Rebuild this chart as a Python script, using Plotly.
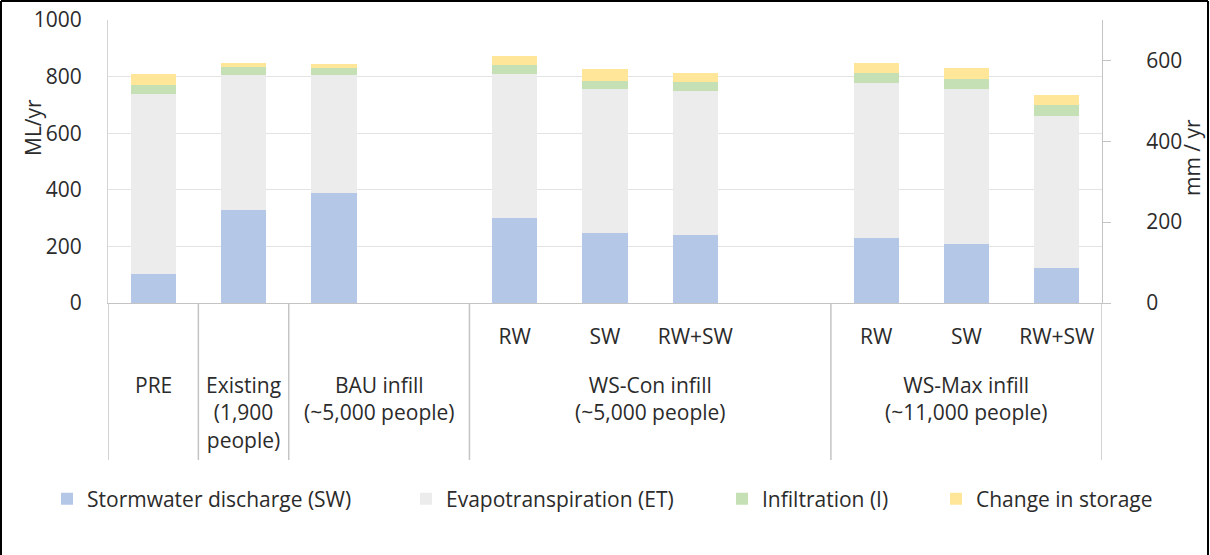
import plotly.graph_objects as go

# ---------------- data ----------------
group_labels = ["PRE",
                "Existing<br>(1,900<br>people)",
                "BAU infill<br>(~5,000 people)",
                "WS-Con infill<br>(~5,000 people)",
                "WS-Max infill<br>(~11,000 people)"]
group_slots = [1, 1, 2, 4, 3]          # category slots spanned by each group
bar_group = [0, 1, 2, 3, 3, 3, 4, 4, 4]
bar_labels = ["", "", "", "RW", "SW", "RW+SW", "RW", "SW", "RW+SW"]

series_names = ["Stormwater discharge (SW)", "Evapotranspiration (ET)",
                "Infiltration (I)", "Change in storage"]
stormwater = [101, 329, 389, 301, 248, 241, 228, 210, 125]
evapotranspiration = [636, 478, 418, 508, 507, 508, 549, 545, 537]
infiltration = [35, 28, 23, 32, 31, 31, 36, 37, 36]
storage = [36, 12, 15, 31, 40, 34, 36, 40, 36]

left_ticks = [0, 200, 400, 600, 800, 1000]
right_ticks = [0, 200, 400, 600]
left_title = "ML/yr"
right_title = "mm / yr"

# ---------------- layout helpers ----------------
W, H = 1210, 555
PL, PR, PT, PB = 108, 1102, 20, 303   # plot area in px


def xp(px):
    return (px - PL) / (PR - PL)


def yp(py):
    return (PB - py) / (PB - PT)


FONT = "Open Sans"
TXT = "#2b2b2b"
FS = 21

starts = []
acc = 0
for s in group_slots:
    starts.append(acc)
    acc += s
n_slots = acc

xpos = []
counter = {}
for g in bar_group:
    k = counter.get(g, 0)
    xpos.append(starts[g] + k)
    counter[g] = k + 1

colors = ["#b4c7e7", "#ececec", "#c5e0b4", "#ffe699"]
series = [stormwater, evapotranspiration, infiltration, storage]
legend_ids = ["legend", "legend2", "legend3", "legend4"]
legend_text_x = [85, 444, 760, 974]

fig = go.Figure()
for name, vals, col, lid in zip(series_names, series, colors, legend_ids):
    fig.add_trace(go.Bar(x=xpos, y=vals, name=name, width=0.5,
                         marker=dict(color=col, line=dict(width=0)),
                         legend=lid))
# empty trace so that the secondary (mm / yr) axis is rendered
fig.add_trace(go.Scatter(x=[], y=[], yaxis="y2", showlegend=False, hoverinfo="skip"))

tick_vals = [x for x, lab in zip(xpos, bar_labels) if lab]
tick_text = [lab for lab in bar_labels if lab]

layout = dict(
    width=W, height=H,
    margin=dict(l=PL, r=W - PR, t=PT, b=H - PB, pad=0, autoexpand=False),
    paper_bgcolor="white", plot_bgcolor="white",
    barmode="stack",
    font=dict(family=FONT, size=FS, color=TXT),
    xaxis=dict(range=[-0.5, n_slots - 0.5], tickvals=tick_vals, ticktext=tick_text,
               showgrid=False, zeroline=False, showline=True, linecolor="#c4c4c4",
               linewidth=1, ticks="", ticklabelstandoff=15,
               tickfont=dict(family=FONT, size=FS, color=TXT)),
    yaxis=dict(range=[0, 1000], tickvals=left_ticks, showgrid=True, gridcolor="#e3e3e3",
               gridwidth=1, zeroline=False, showline=True, linecolor="#d4d4d4",
               ticks="", ticklabelstandoff=21,
               tickfont=dict(family=FONT, size=FS, color=TXT)),
    yaxis2=dict(range=[0, 700], tickvals=right_ticks, overlaying="y", side="right",
                showgrid=False, zeroline=False, showline=True, linecolor="#c4c4c4",
                ticks="outside", ticklen=8, tickcolor="#c4c4c4", ticklabelstandoff=31,
                tickfont=dict(family=FONT, size=FS, color=TXT)),
    showlegend=True,
)
for lid, tx in zip(legend_ids, legend_text_x):
    layout[lid] = dict(orientation="h", x=xp(tx - 38), y=yp(499), xanchor="left",
                       yanchor="middle", bgcolor="rgba(0,0,0,0)",
                       font=dict(family=FONT, size=FS, color=TXT))
fig.update_layout(**layout)

# category separators
bounds = starts + [n_slots]
for b in bounds:
    fig.add_shape(type="line", xref="x", yref="paper", x0=b - 0.5, x1=b - 0.5,
                  y0=0, y1=yp(460), line=dict(color="#c4c4c4", width=1.5))

# group labels
for g, lab in enumerate(group_labels):
    cx = starts[g] + group_slots[g] / 2 - 0.5
    fig.add_annotation(x=cx, xref="x", y=yp(370), yref="paper", text=lab,
                       showarrow=False, xanchor="center", yanchor="top",
                       borderpad=0, font=dict(family=FONT, size=FS, color=TXT))

# axis titles
fig.add_annotation(x=xp(33), y=yp(128), xref="paper", yref="paper", text=left_title,
                   textangle=-90, showarrow=False, xanchor="center", yanchor="middle",
                   font=dict(family=FONT, size=FS, color=TXT))
fig.add_annotation(x=xp(1192), y=yp(158), xref="paper", yref="paper", text=right_title,
                   textangle=-90, showarrow=False, xanchor="center", yanchor="middle",
                   font=dict(family=FONT, size=FS, color=TXT))

# outer frame of the image (left, top, right)
for (x0, y0, x1, y1) in [(1, 1, 1, 560), (1, 1, 1208, 1), (1208, 1, 1208, 560)]:
    fig.add_shape(type="line", xref="paper", yref="paper", x0=xp(x0), x1=xp(x1),
                  y0=yp(y0), y1=yp(y1), line=dict(color="black", width=2))

fig.write_html("out.html", config={"displayModeBar": False},
               post_script="document.body.style.margin='0';document.body.style.overflow='hidden';")
